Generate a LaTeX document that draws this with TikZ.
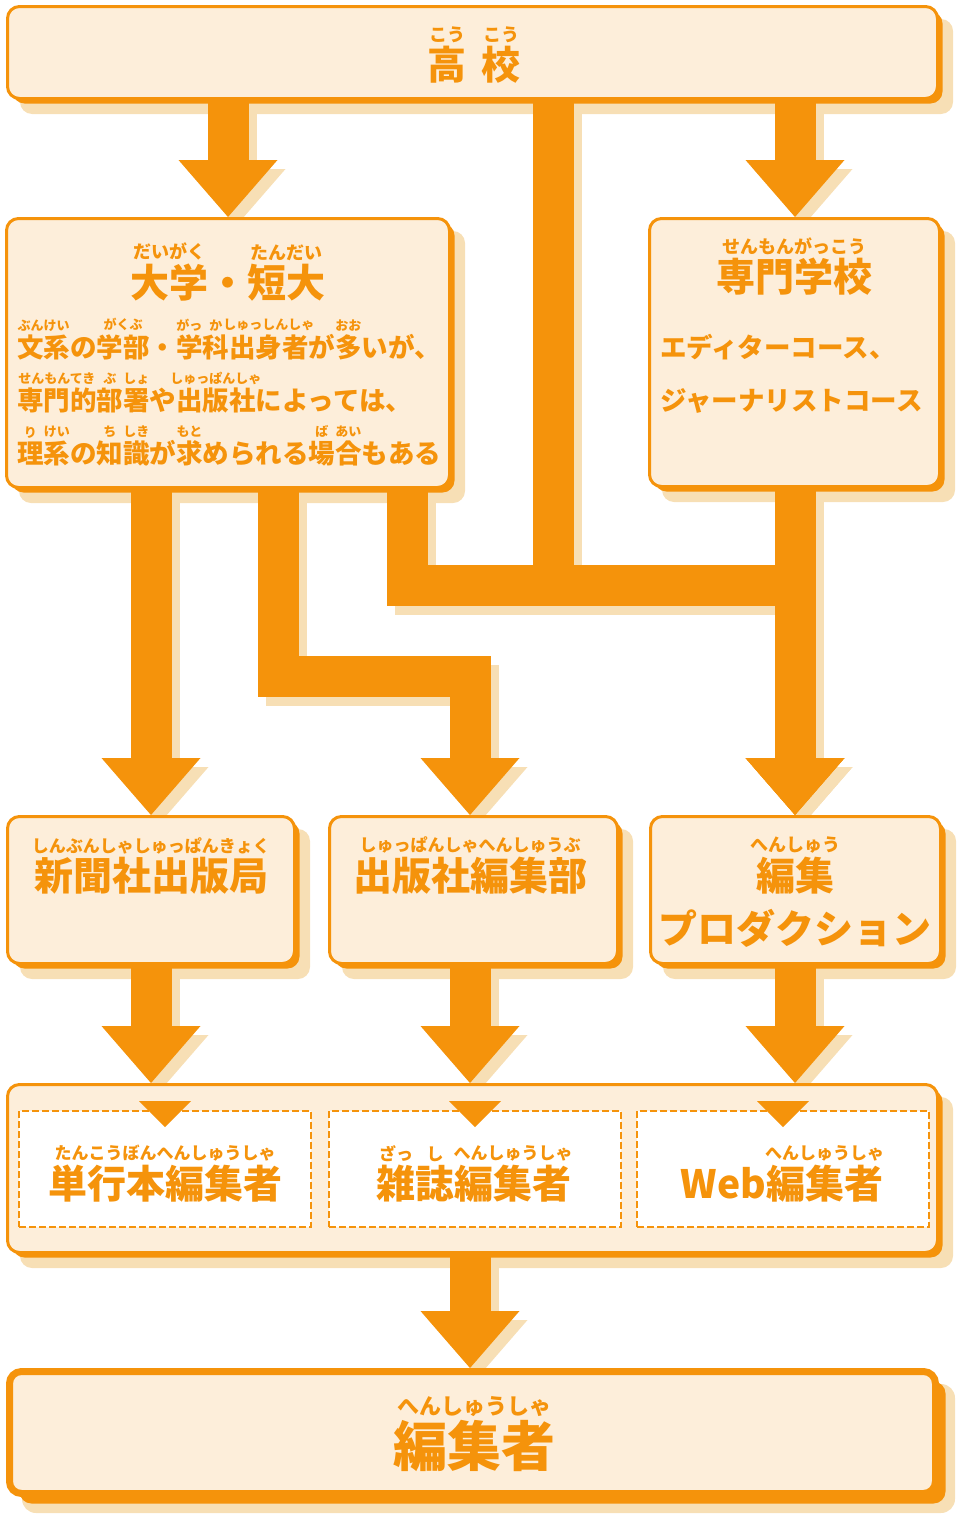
\documentclass[tikz,border=0pt]{standalone}
\usepackage{fontspec}
\setmainfont{Noto Sans CJK JP}
\usetikzlibrary{arrows.meta, shadows}

\definecolor{flowor}{HTML}{F5930B}
\definecolor{boxfill}{HTML}{FDEEDA}
\definecolor{shadecol}{HTML}{F7DFB5}

\pgfdeclarelayer{shadowlayer}
\pgfdeclarelayer{arrowlayer}
\pgfsetlayers{shadowlayer,arrowlayer,main}

% ruby text over a word
\newcommand\furi[3][13]{\leavevmode\setbox0\hbox{#2}\vbox{\offinterlineskip
  \hbox to\wd0{\hss\fontsize{#1pt}{#1pt}\selectfont#3\hss}\vskip3pt\box0}}

% one block arrow, with its light shadow
\newcommand\conn[1]{%
  \begin{pgfonlayer}{shadowlayer}\draw[flowshade] #1;\end{pgfonlayer}
  \begin{pgfonlayer}{arrowlayer}\draw[flow] #1;\end{pgfonlayer}}

\tikzset{
  panel/.style={draw=flowor, fill=boxfill, rounded corners=12pt, anchor=north west, inner sep=0pt},
  stage/.style={panel, line width=3pt, general shadow={shadow xshift=5pt, shadow yshift=-5pt, fill=flowor}},
  goal/.style={panel, line width=7pt, general shadow={shadow xshift=10pt, shadow yshift=-10pt, fill=flowor}},
  slot/.style={draw=flowor, line width=2pt, dash pattern=on 7pt off 3pt, fill=white, anchor=north west,
    inner sep=0pt, minimum width=292pt, minimum height=116pt},
  flow/.style={draw=flowor, line width=41pt, line join=miter, -{Triangle[length=57pt, width=99pt, line width=0pt]}},
  flowshade/.style={flow, draw=shadecol, transform canvas={shift={(8pt,-9pt)}}},
  lbl/.style={text=flowor, inner sep=0pt, anchor=base},
  ttl/.style={lbl, font=\bfseries\fontsize{39pt}{39pt}\selectfont},
  txt/.style={lbl, anchor=base west, font=\bfseries\fontsize{26.5pt}{26.5pt}\selectfont},
}

\begin{document}
\begin{tikzpicture}[x=1pt, y=-1pt]
  \useasboundingbox (0,0) rectangle (960,1515);

  % columns and bars of the arrows
  \coordinate (ca) at (151,0);
  \coordinate (cb) at (228,0);
  \coordinate (cc) at (278,0);
  \coordinate (cd) at (407,0);
  \coordinate (ce) at (470,0);
  \coordinate (cf) at (553,0);
  \coordinate (cg) at (795,0);
  \coordinate (m1) at (0,585.5);
  \coordinate (m2) at (0,676);

  % boxes
  \node[stage, minimum width=930pt, minimum height=92pt] (hs) at (6,5) {};
  \node[stage, minimum width=443pt, minimum height=269pt] (univ) at (5,217) {};
  \node[stage, minimum width=290pt, minimum height=268pt] (voc) at (648,217) {};
  \node[stage, minimum width=287pt, minimum height=147pt] (news) at (6,815) {};
  \node[stage, minimum width=288pt, minimum height=147pt] (pub) at (328,815) {};
  \node[stage, minimum width=290pt, minimum height=147pt] (prod) at (649,815) {};
  \node[stage, minimum width=930pt, minimum height=168pt] (group) at (6,1083) {};
  \node[goal, minimum width=926pt, minimum height=122pt] (editor) at (6,1368) {};

  \node[slot] (slotA) at (18,1110) {};
  \node[slot] (slotB) at (328,1110) {};
  \node[slot] (slotC) at (636,1110) {};
  \foreach \s in {slotA,slotB,slotC}
    \fill[flowor] ([shift={(-26pt,9pt)}]\s.north) -- ++(52,0) -- ++(-26,26) -- cycle;

  \begin{pgfonlayer}{shadowlayer}
    \foreach \b in {hs,univ,voc,news,pub,prod,group}
      \fill[shadecol, rounded corners=12pt] ([shift={(14pt,-14pt)}]\b.north west)
        rectangle ([shift={(14pt,-14pt)}]\b.south east);
    \fill[shadecol, rounded corners=14pt] ([shift={(16pt,-16pt)}]editor.north west)
      rectangle ([shift={(16pt,-16pt)}]editor.south east);
  \end{pgfonlayer}

  % arrows
  \conn{(hs.south -| cb) -- (univ.north -| cb)}
  \conn{(hs.south -| cg) -- (voc.north -| cg)}
  \conn{(hs.south -| cf) -- (m1 -| cf) -- (m1 -| cg) -- (prod.north -| cg)}
  \conn{(univ.south -| ca) -- (news.north -| ca)}
  \conn{(univ.south -| cc) -- (m2 -| cc) -- (m2 -| ce) -- (pub.north -| ce)}
  \conn{(univ.south -| cd) -- (m1 -| cd) -- (m1 -| cg) -- (prod.north -| cg)}
  \conn{(voc.south -| cg) -- (prod.north -| cg)}
  \conn{(news.south -| ca) -- (group.north -| ca)}
  \conn{(pub.south -| ce) -- (group.north -| ce)}
  \conn{(prod.south -| cg) -- (group.north -| cg)}
  \conn{(group.south -| ce) -- (editor.north -| ce)}

  % texts
  \node[ttl] (hsT) at (474,79) {\furi[18]{高}{こう}\hspace{15pt}\furi[18]{校}{こう}};

  \node[ttl] (univT) at (228,297) {\furi[18]{大学}{だいがく}・\furi[18]{短大}{たんだい}};
  \node[txt] (univL1) at (17,357) {\furi{文系}{ぶんけい}の\furi{学部}{がくぶ}・\furi{学}{がっ}\furi{科}{か}\furi{出身者}{しゅっしんしゃ}が\furi{多}{おお}いが、};
  \node[txt] (univL2) at (17,410) {\furi{専門的}{せんもんてき}\furi{部}{ぶ}\furi{署}{しょ}や\furi{出版社}{しゅっぱんしゃ}によっては、};
  \node[txt] (univL3) at (17,463) {\furi{理}{り}\furi{系}{けい}の\furi{知}{ち}\furi{識}{しき}が\furi{求}{もと}められる\furi{場}{ば}\furi{合}{あい}もある};

  \node[ttl] (vocT) at (794,291) {\furi[18]{専門学校}{せんもんがっこう}};
  \node[txt] (vocL1) at (660,357) {エディターコース、};
  \node[txt] (vocL2) at (660,410) {ジャーナリストコース};

  \node[ttl] (newsT) at (151,890) {\furi[17]{新聞社出版局}{しんぶんしゃしゅっぱんきょく}};
  \node[ttl] (pubT) at (470,890) {\furi[17]{出版社編集部}{しゅっぱんしゃへんしゅうぶ}};
  \node[ttl] (prodT) at (795,890) {\furi[18]{編集}{へんしゅう}};
  \node[ttl] (prodT2) at (795,943) {プロダクション};

  \node[ttl] (slotAT) at (165,1198) {\furi[17]{単行本編集者}{たんこうぼんへんしゅうしゃ}};
  \node[ttl] (slotBT) at (474,1198) {\furi[17]{雑}{ざっ}\furi[17]{誌}{し}\furi[17]{編集者}{へんしゅうしゃ}};
  \node[ttl] (slotCT) at (782,1198) {Web\furi[17]{編集者}{へんしゅうしゃ}};

  \node[lbl, font=\bfseries\fontsize{54pt}{54pt}\selectfont] (editorT) at (474,1466) {\furi[22]{編集者}{へんしゅうしゃ}};
\end{tikzpicture}
\end{document}
